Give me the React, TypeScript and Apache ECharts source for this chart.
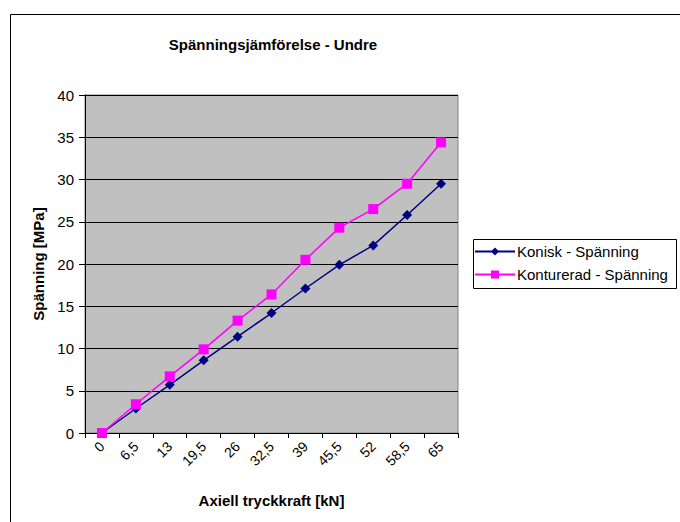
import React, { useEffect, useRef } from "react";
import * as echarts from "echarts";

const categories = ["0", "6,5", "13", "19,5", "26", "32,5", "39", "45,5", "52", "58,5", "65"];
const konisk = [0, 2.9, 5.7, 8.6, 11.4, 14.2, 17.1, 19.9, 22.2, 25.8, 29.5];
const konturerad = [0, 3.4, 6.7, 9.9, 13.3, 16.4, 20.5, 24.3, 26.5, 29.5, 34.4];

const FONT = "'Liberation Sans', Arial, sans-serif";

export default function App() {
  const ref = useRef<HTMLDivElement>(null);
  useEffect(() => {
    if (!ref.current) return;
    const chart = echarts.init(ref.current, null, { renderer: "svg" });
    chart.setOption({
      animation: false,
      backgroundColor: "#ffffff",
      textStyle: { fontFamily: FONT, color: "#000" },
      title: {
        text: "Spänningsjämförelse - Undre",
        left: 268,
        top: 32,
        textAlign: "center",
        textStyle: { fontFamily: FONT, fontSize: 15, fontWeight: "bold", color: "#000" },
      },
      graphic: [
        {
          type: "rect",
          shape: { x: 10.5, y: 14.5, width: 700, height: 600 },
          style: { fill: "none", stroke: "#000", lineWidth: 1 },
          silent: true,
        },
        {
          type: "rect",
          shape: { x: 473.5, y: 239.5, width: 203, height: 49 },
          style: { fill: "none", stroke: "#000", lineWidth: 1 },
          silent: true,
        },
      ],
      legend: {
        orient: "vertical",
        left: 474,
        top: 244,
        padding: 0,
        itemGap: 8,
        itemWidth: 40,
        itemHeight: 10,
        textStyle: { fontFamily: FONT, fontSize: 15, color: "#000", padding: [0, 0, 0, -3] },
        data: ["Konisk - Spänning", "Konturerad - Spänning"],
      },
      grid: {
        left: 85,
        top: 95,
        right: 222,
        bottom: 89,
        show: true,
        backgroundColor: "#C0C0C0",
        borderColor: "#808080",
        borderWidth: 1,
        containLabel: false,
      },
      xAxis: {
        type: "category",
        data: categories,
        boundaryGap: true,
        name: "Axiell tryckkraft [kN]",
        nameLocation: "middle",
        nameGap: 60,
        nameTextStyle: { fontFamily: FONT, fontSize: 15, fontWeight: "bold", color: "#000" },
        axisLine: { lineStyle: { color: "#000", width: 1 } },
        axisTick: { show: true, length: 5, alignWithLabel: false, lineStyle: { color: "#000" } },
        axisLabel: { rotate: 45, fontFamily: FONT, fontSize: 14, color: "#000", margin: 11, interval: 0 },
        splitLine: { show: false },
      },
      yAxis: {
        type: "value",
        min: 0,
        max: 40,
        interval: 5,
        name: "Spänning [MPa]",
        nameLocation: "middle",
        nameGap: 38,
        nameRotate: 90,
        nameTextStyle: { fontFamily: FONT, fontSize: 15, fontWeight: "bold", color: "#000" },
        axisLine: { show: true, lineStyle: { color: "#000", width: 1 } },
        axisTick: { show: true, length: 6, lineStyle: { color: "#000" } },
        axisLabel: { fontFamily: FONT, fontSize: 15, color: "#000", margin: 11 },
        splitLine: { show: true, lineStyle: { color: "#000", width: 1 } },
      },
      series: [
        {
          name: "Konisk - Spänning",
          type: "line",
          data: konisk,
          symbol: "diamond",
          symbolSize: 10,
          itemStyle: { color: "#000080" },
          lineStyle: { color: "#000080", width: 1.5 },
        },
        {
          name: "Konturerad - Spänning",
          type: "line",
          data: konturerad,
          symbol: "rect",
          symbolSize: 10,
          itemStyle: { color: "#FF00FF" },
          lineStyle: { color: "#FF00FF", width: 1.5 },
        },
      ],
    });
    return () => chart.dispose();
  }, []);
  return <div ref={ref} style={{ position: "fixed", left: 0, top: 0, width: 680, height: 522 }} />;
}
